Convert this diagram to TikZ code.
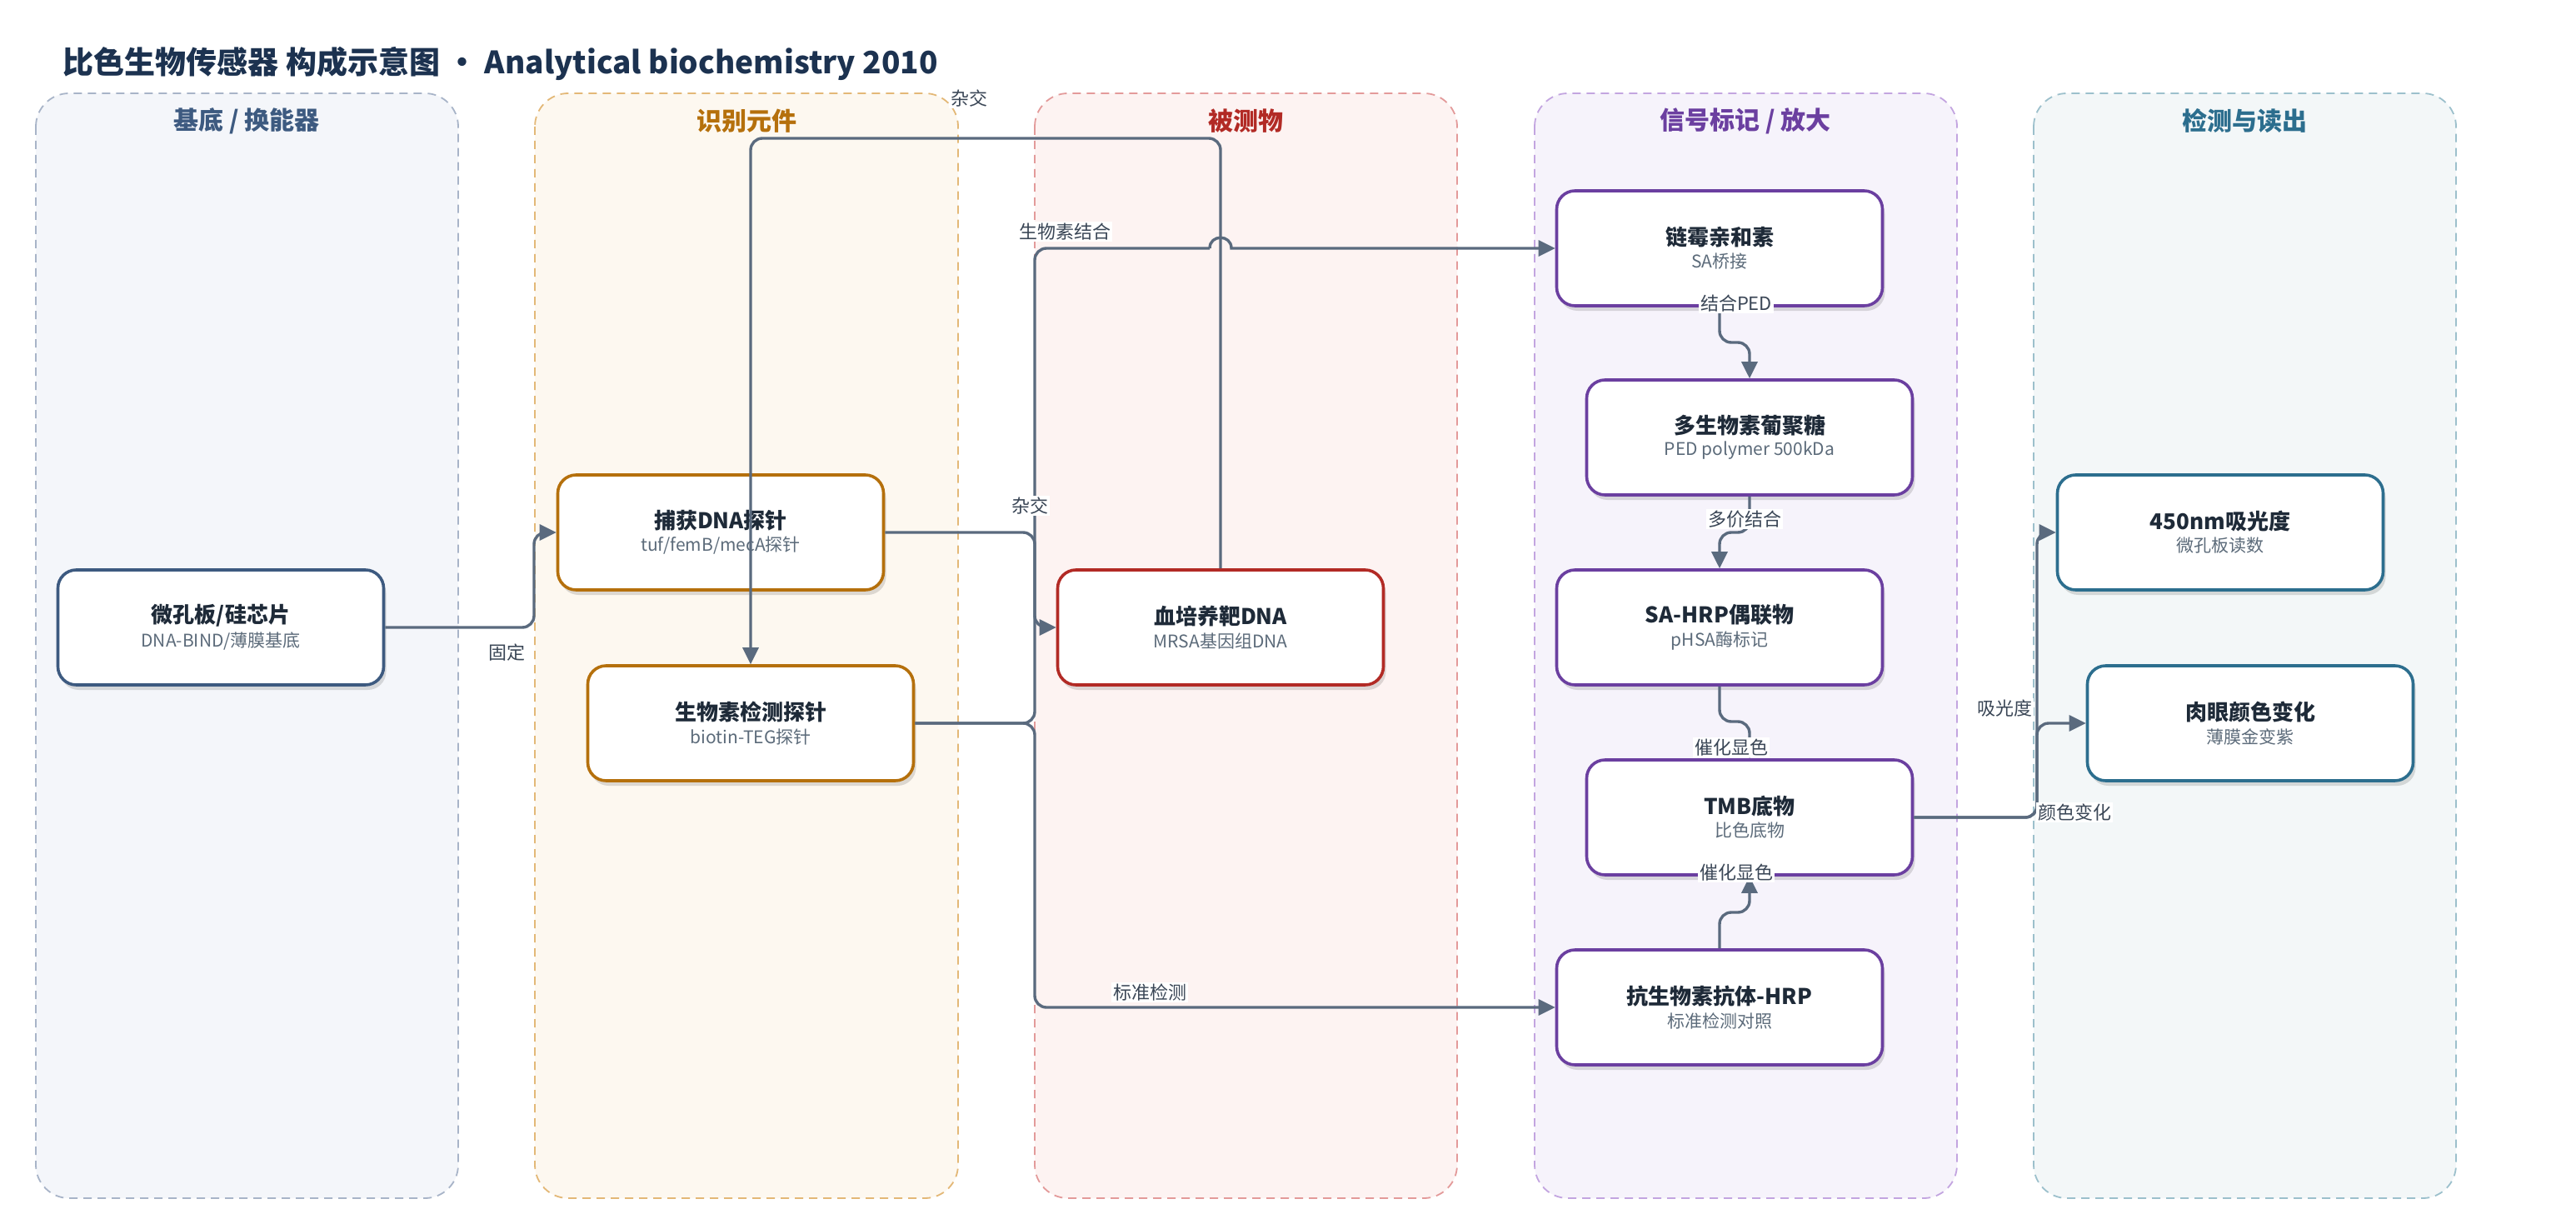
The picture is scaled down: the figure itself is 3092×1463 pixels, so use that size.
\documentclass[tikz,border=0pt]{standalone}
\usepackage{fontspec}
\setmainfont{Noto Sans CJK SC}
\usetikzlibrary{arrows.meta,shadows}
\definecolor{titlec}{HTML}{1C3250}
\definecolor{nodetxt}{HTML}{1E2A38}
\definecolor{subtxt}{HTML}{5C6B7A}
\definecolor{edgec}{HTML}{5A6A7E}
\definecolor{labc}{HTML}{3A4656}
\definecolor{cA}{HTML}{3D5A80}
\definecolor{cB}{HTML}{B5700C}
\definecolor{cC}{HTML}{B22A25}
\definecolor{cD}{HTML}{6B3FA0}
\definecolor{cE}{HTML}{2C6E8E}
\definecolor{fA}{HTML}{F4F6FA}
\definecolor{fB}{HTML}{FDF8F0}
\definecolor{fC}{HTML}{FDF3F2}
\definecolor{fD}{HTML}{F6F3FB}
\definecolor{fE}{HTML}{F3F7F8}
\definecolor{bA}{HTML}{A8B4C8}
\definecolor{bB}{HTML}{E3B877}
\definecolor{bC}{HTML}{E39A9A}
\definecolor{bD}{HTML}{C3A5E0}
\definecolor{bE}{HTML}{9CC0CC}
\newcommand\ndtext[2]{{\fontsize{26}{30}\selectfont\bfseries\color{nodetxt}#1}\\[6pt]{\fontsize{21}{26}\selectfont\color{subtxt}#2}}
\tikzset{
  lanebox/.style={rounded corners=40pt, line width=1.8pt, dash pattern=on 10pt off 7pt},
  lanehead/.style={font=\fontsize{30}{36}\selectfont\bfseries},
  nodebox/.style={rectangle, rounded corners=22pt, minimum width=391pt, minimum height=138pt,
    fill=white, line width=3.6pt, align=center,
    drop shadow={shadow xshift=3pt, shadow yshift=-6pt, opacity=0.13, fill=black}},
  conn/.style={draw=edgec, line width=3.4pt, rounded corners=14pt,
    -{Triangle[length=20pt,width=19pt]}},
  elabel/.style={fill=white, inner sep=2pt, text=labc, font=\fontsize{22}{26}\selectfont}
}
\begin{document}
\begin{tikzpicture}[x=1pt,y=-1pt]
\useasboundingbox (0,0) rectangle (3092,1463);
\fill[white] (0,0) rectangle (3092,1463);
% title
\node[anchor=west, text=titlec, font=\fontsize{37}{44}\selectfont\bfseries] (title) at (72,76)
  {比色生物传感器 构成示意图 • Analytical biochemistry 2010};
% lanes
\draw[lanebox, fill=fA, draw=bA] (43,112) rectangle (550,1438);
\draw[lanebox, fill=fB, draw=bB] (642,112) rectangle (1150,1438);
\draw[lanebox, fill=fC, draw=bC] (1242,112) rectangle (1749,1438);
\draw[lanebox, fill=fD, draw=bD] (1842,112) rectangle (2349,1438);
\draw[lanebox, fill=fE, draw=bE] (2441,112) rectangle (2948,1438);
\node[lanehead, text=cA] (h1) at (296,145) {基底 / 换能器};
\node[lanehead, text=cB] (h2) at (896,145) {识别元件};
\node[lanehead, text=cC] (h3) at (1495,145) {被测物};
\node[lanehead, text=cD] (h4) at (2095,145) {信号标记 / 放大};
\node[lanehead, text=cE] (h5) at (2694,145) {检测与读出};
% nodes
\node[nodebox, draw=cA] (w0) at (265,753) {\ndtext{微孔板/硅芯片}{DNA-BIND/薄膜基底}};
\node[nodebox, draw=cB] (cap) at (865,639) {\ndtext{捕获DNA探针}{tuf/femB/mecA探针}};
\node[nodebox, draw=cB] (bio) at (901,868) {\ndtext{生物素检测探针}{biotin-TEG探针}};
\node[nodebox, draw=cC] (tgt) at (1465,753) {\ndtext{血培养靶DNA}{MRSA基因组DNA}};
\node[nodebox, draw=cD] (sa) at (2064,298) {\ndtext{链霉亲和素}{SA桥接}};
\node[nodebox, draw=cD] (ped) at (2100,525) {\ndtext{多生物素葡聚糖}{PED polymer 500kDa}};
\node[nodebox, draw=cD] (hrp) at (2064,753) {\ndtext{SA-HRP偶联物}{pHSA酶标记}};
\node[nodebox, draw=cD] (tmb) at (2100,981) {\ndtext{TMB底物}{比色底物}};
\node[nodebox, draw=cD] (anti) at (2064,1209) {\ndtext{抗生物素抗体-HRP}{标准检测对照}};
\node[nodebox, draw=cE] (od) at (2665,639) {\ndtext{450nm吸光度}{微孔板读数}};
\node[nodebox, draw=cE] (eye) at (2701,868) {\ndtext{肉眼颜色变化}{薄膜金变紫}};
% helper coordinates
\coordinate (jx) at (641,0);
\coordinate (bus) at (1242,0);
\coordinate (toprow) at (0,166);
\coordinate (rbus) at (2445,0);
\coordinate (y1) at (0,411);
\coordinate (y2) at (0,639);
\coordinate (y3) at (0,866);
\coordinate (y4) at (0,1095);
\coordinate (hopa) at (1452,298);
% connectors
\draw[conn] (w0.east) -- (jx |- w0.east) -- (jx |- cap.west) -- (cap.west);
\draw[conn] (tgt.north) -- (tgt.north |- toprow) -- (bio.north |- toprow) -- (bio.north);
\draw[conn] (cap.east) -- (bus |- cap.east) -- (bus |- tgt.west) -- (tgt.west);
\draw[conn, -] (bio.east) -- (bus |- bio.east) -- (bus |- sa.west) -- (hopa);
\draw[conn, sharp corners] (hopa) .. controls (1452,281) and (1478,281) .. (1478,298) -- (sa.west);
\draw[conn] (bio.east) -- (bus |- bio.east) -- (bus |- anti.west) -- (anti.west);
\draw[conn] (sa.south) -- (sa.south |- y1) -- (ped.north |- y1) -- (ped.north);
\draw[conn] (ped.south) -- (ped.south |- y2) -- (hrp.north |- y2) -- (hrp.north);
\draw[conn] (hrp.south) -- (hrp.south |- y3) -- (tmb.north |- y3) -- (tmb.north);
\draw[conn] (anti.north) -- (anti.north |- y4) -- (tmb.south |- y4) -- (tmb.south);
\draw[conn] (tmb.east) -- (rbus |- tmb.east) -- (rbus |- od.west) -- (od.west);
\draw[conn] (tmb.east) -- (rbus |- tmb.east) -- (rbus |- eye.west) -- (eye.west);
% edge labels
\node[elabel] (l1) at (608,783) {固定};
\node[elabel] (l2) at (1163,118) {杂交};
\node[elabel] (l3) at (1236,607) {杂交};
\node[elabel] (l4) at (1278,278) {生物素结合};
\node[elabel] (l5) at (1380,1191) {标准检测};
\node[elabel] (l6) at (2084,364) {结合PED};
\node[elabel] (l7) at (2094,623) {多价结合};
\node[elabel] (l8) at (2078,897) {催化显色};
\node[elabel] (l9) at (2084,1047) {催化显色};
\node[elabel] (l10) at (2406,850) {吸光度};
\node[elabel] (l11) at (2490,975) {颜色变化};
\end{tikzpicture}
\end{document}
